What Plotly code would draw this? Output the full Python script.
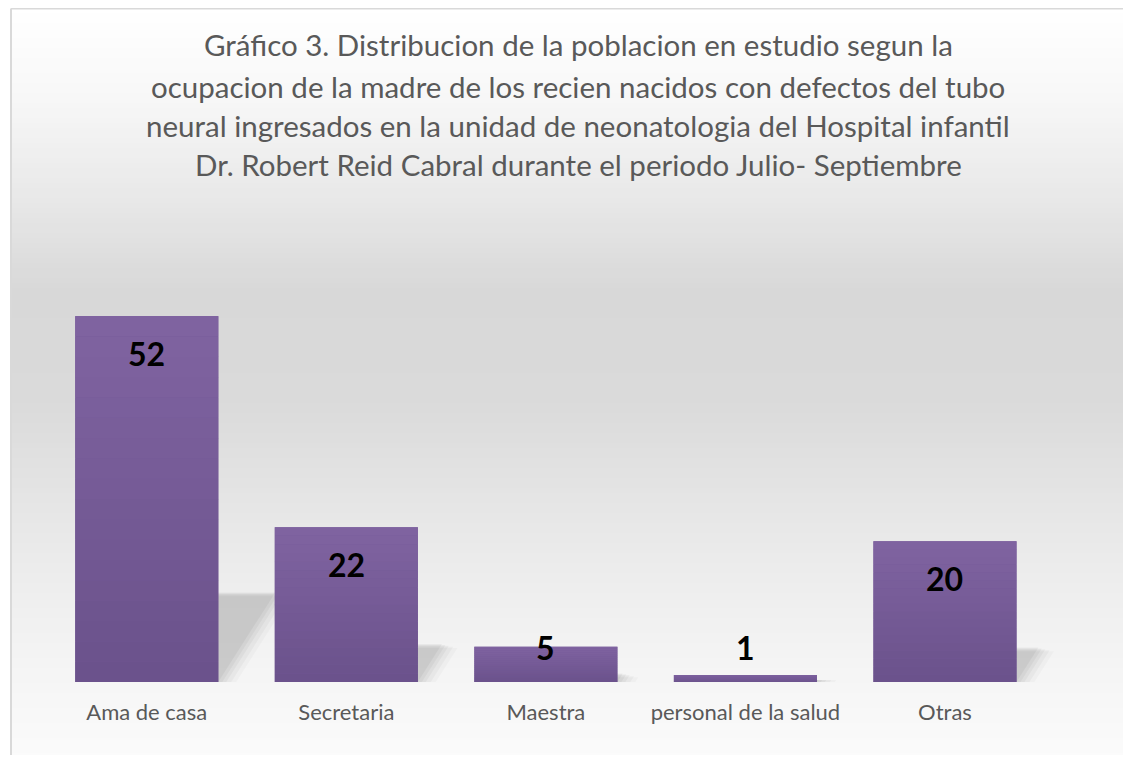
import plotly.graph_objects as go

# data
categories = ["Ama de casa", "Secretaria", "Maestra", "personal de la salud", "Otras"]
values = [52, 22, 5, 1, 20]
title_lines = [
    "Gráfico 3. Distribucion de la poblacion en estudio segun la",
    "ocupacion de la madre de los recien nacidos con defectos del tubo",
    "neural ingresados en la unidad de neonatologia del Hospital infantil",
    "Dr. Robert Reid Cabral durante el periodo Julio- Septiembre",
]

# page has an 8px body margin; figure sized so no scrollbars appear
OFF = 8
W, H = 1115, 747
PL, PR, PT, PB = 47, 1054, 260, 682  # plot area in screen px
FONT = "Lato, 'Open Sans', sans-serif"
BAR_TOP = (128, 100, 161)
BAR_BOT = (106, 81, 139)


def px_x(px):
    return (px - PL) / (PR - PL)


def px_y(py):
    return (PB - py) / (PB - PT)


def grey(v):
    v = int(round(v))
    return f"rgb({v},{v},{v})"


# background gradient stops (screen y, grey level)
stops = [(7, 255), (100, 247), (200, 232), (290, 216), (400, 218),
         (500, 229), (600, 239), (700, 247), (763, 251)]


def grey_at(y):
    for (y0, g0), (y1, g1) in zip(stops, stops[1:]):
        if y0 <= y <= y1:
            return g0 + (g1 - g0) * (y - y0) / (y1 - y0)
    return stops[-1][1]


shapes = []
step = 5
for y in range(OFF, H + OFF, step):
    shapes.append(dict(
        type="rect", xref="paper", yref="paper", layer="below",
        x0=px_x(11), x1=px_x(W + OFF + 5), y0=px_y(y + step + 1), y1=px_y(y),
        fillcolor=grey(grey_at(y + step / 2)), line=dict(width=0),
    ))

# bar shadows (sheared, soft)
half = 0.3585
for i, v in enumerate(values):
    sh = 0.245 * v
    shift = 0.0055 * v
    for k, op in [(0.09, 0.025), (0.065, 0.03), (0.04, 0.035), (0.02, 0.04), (0.0, 0.045)]:
        x0 = i - half
        x1 = i + half + k
        top = max(sh - k * 6, 0.3)
        path = (f"M {x0},0 L {x1},0 L {x1 + shift * top / sh},{top} "
                f"L {x0 + shift * top / sh},{top} Z")
        shapes.append(dict(type="path", xref="x", yref="y", layer="below",
                           path=path, fillcolor=f"rgba(0,0,0,{op})",
                           line=dict(width=0)))

# vertical gradient over each bar
nb = 18
for i, v in enumerate(values):
    for j in range(nb):
        t = (j + 0.5) / nb
        c = [round(BAR_BOT[m] + (BAR_TOP[m] - BAR_BOT[m]) * t) for m in range(3)]
        shapes.append(dict(
            type="rect", xref="x", yref="y", layer="above",
            x0=i - half, x1=i + half, y0=v * j / nb, y1=v * (j + 1) / nb * 1.0005,
            fillcolor=f"rgb({c[0]},{c[1]},{c[2]})", line=dict(width=0),
        ))

# frame
shapes.append(dict(type="line", xref="paper", yref="paper",
                   x0=px_x(11), x1=px_x(11), y0=px_y(OFF + 0.5), y1=px_y(H + OFF + 5),
                   line=dict(color="#D9D9D9", width=2)))
shapes.append(dict(type="line", xref="paper", yref="paper",
                   x0=px_x(11), x1=px_x(W + OFF + 5), y0=px_y(OFF + 0.5), y1=px_y(OFF + 0.5),
                   line=dict(color="#D9D9D9", width=2)))

fig = go.Figure(go.Bar(
    x=categories, y=values,
    marker=dict(color="rgb(117,89,150)", line=dict(width=0)),
    hoverinfo="x+y",
))

annotations = []
for ty, line in zip([45, 86, 126, 164], title_lines):
    annotations.append(dict(
        text=line, xref="paper", yref="paper", x=px_x(578), y=px_y(ty),
        xanchor="center", yanchor="middle", showarrow=False,
        font=dict(family=FONT, size=29.5, color="#595959"),
    ))

# data labels near the inside top of each bar
for c, v in zip(categories, values):
    annotations.append(dict(
        text=f"<b>{v}</b>", x=c, y=max(v - 5.26, 4.84), xref="x", yref="y",
        xanchor="center", yanchor="middle", showarrow=False,
        font=dict(family=FONT, size=32, color="#000000"),
    ))

fig.update_layout(
    width=W, height=H,
    margin=dict(l=PL - OFF, r=W - (PR - OFF), t=PT - OFF, b=H - (PB - OFF)),
    paper_bgcolor="#FFFFFF", plot_bgcolor="rgba(0,0,0,0)",
    bargap=0.283, showlegend=False,
    shapes=shapes, annotations=annotations,
    font=dict(family=FONT),
)
fig.update_xaxes(
    showgrid=False, zeroline=False, showline=False, ticks="",
    tickfont=dict(family=FONT, size=22, color="#595959"),
    ticklabelstandoff=15,
)
fig.update_yaxes(range=[0, 60], visible=False, showgrid=False)

fig.write_html("out.html")
